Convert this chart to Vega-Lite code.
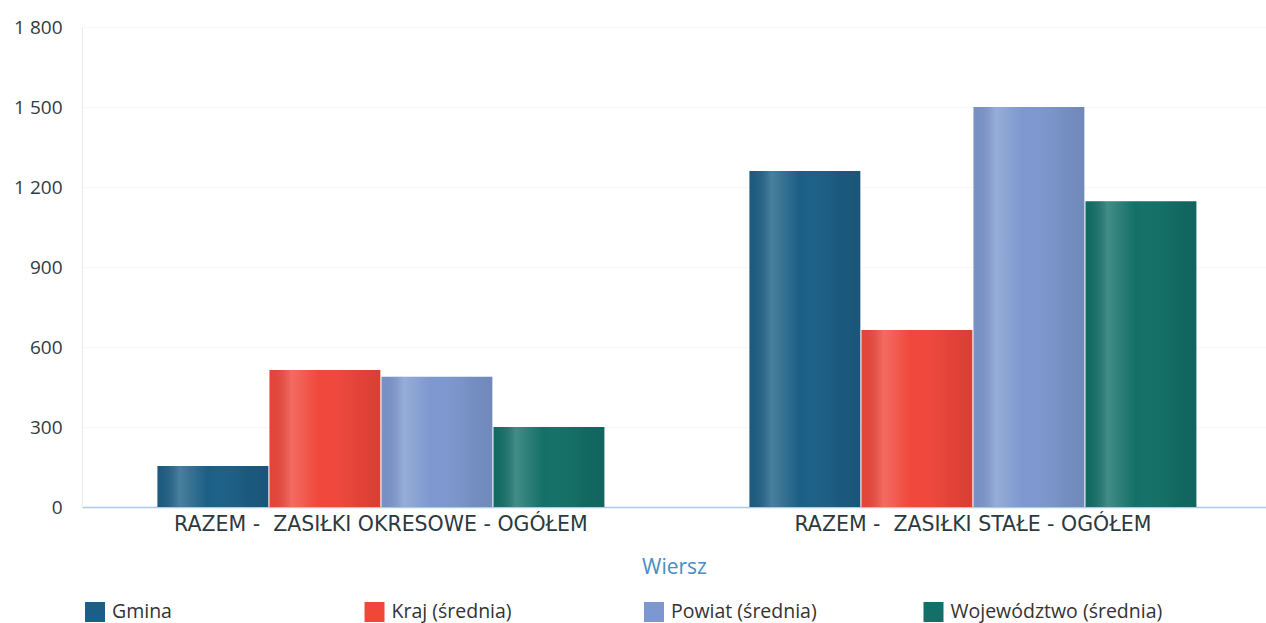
{
  "$schema": "https://vega.github.io/schema/vega-lite/v6.json",
  "autosize": "none",
  "padding": {"left": 82, "top": 27, "right": 0, "bottom": 116},
  "width": 1184,
  "height": 480,
  "background": "white",
  "config": {
    "font": "Open Sans",
    "view": {"stroke": null},
    "axis": {"labelFont": "Open Sans", "titleFont": "Open Sans"}
  },
  "data": {
    "values": [
      {"wiersz": "RAZEM -  ZASIŁKI OKRESOWE - OGÓŁEM", "seria": "Gmina", "wartosc": 154},
      {"wiersz": "RAZEM -  ZASIŁKI OKRESOWE - OGÓŁEM", "seria": "Kraj (średnia)", "wartosc": 514},
      {"wiersz": "RAZEM -  ZASIŁKI OKRESOWE - OGÓŁEM", "seria": "Powiat (średnia)", "wartosc": 488},
      {"wiersz": "RAZEM -  ZASIŁKI OKRESOWE - OGÓŁEM", "seria": "Województwo (średnia)", "wartosc": 300},
      {"wiersz": "RAZEM -  ZASIŁKI STAŁE - OGÓŁEM", "seria": "Gmina", "wartosc": 1260},
      {"wiersz": "RAZEM -  ZASIŁKI STAŁE - OGÓŁEM", "seria": "Kraj (średnia)", "wartosc": 664},
      {"wiersz": "RAZEM -  ZASIŁKI STAŁE - OGÓŁEM", "seria": "Powiat (średnia)", "wartosc": 1500},
      {"wiersz": "RAZEM -  ZASIŁKI STAŁE - OGÓŁEM", "seria": "Województwo (średnia)", "wartosc": 1147}
    ]
  },
  "encoding": {
    "x": {
      "field": "wiersz",
      "type": "nominal",
      "sort": null,
      "title": "Wiersz",
      "scale": {"paddingInner": 0.245, "paddingOuter": 0.1225, "align": 0.52},
      "axis": {
        "labelAngle": 0,
        "labelFont": "DejaVu Sans",
        "labelFontSize": 20.5,
        "labelColor": "#2c3a40",
        "labelPadding": 7,
        "labelLimit": 600,
        "labelExpr": "replace(datum.label, '-  ', '- \u00a0')",
        "ticks": false,
        "domainColor": "#a9cbe6",
        "domainWidth": 1.5,
        "titleFontSize": 21,
        "titleFontWeight": "normal",
        "titleColor": "#4a8cc4",
        "titlePadding": 22
      }
    },
    "xOffset": {"field": "seria", "type": "nominal", "scale": {"paddingInner": 0.01}},
    "y": {
      "field": "wartosc",
      "type": "quantitative",
      "title": null,
      "scale": {"domain": [0, 1800]},
      "axis": {
        "values": [0, 300, 600, 900, 1200, 1500, 1800],
        "labelExpr": "replace(format(datum.value, ','), ',', ' ')",
        "labelFontSize": 19,
        "labelColor": "#2f3b42",
        "labelPadding": 20,
        "ticks": false,
        "domainColor": "#e6ebf0",
        "grid": true,
        "gridColor": "#f7f8f9",
        "gridWidth": 1
      }
    }
  },
  "layer": [
    {
      "mark": {"type": "bar"},
      "encoding": {
        "color": {
          "field": "seria",
          "type": "nominal",
          "scale": {
            "domain": ["Gmina", "Kraj (średnia)", "Powiat (średnia)", "Województwo (średnia)"],
            "range": ["#1c5f86", "#f0473a", "#7d98cf", "#137068"]
          },
          "legend": {
            "title": null,
            "orient": "none",
            "legendX": 3,
            "legendY": 575,
            "direction": "horizontal",
            "columns": 4,
            "gridAlign": "all",
            "columnPadding": 40.5,
            "symbolType": "square",
            "symbolSize": 400,
            "symbolStrokeWidth": 0,
            "labelFontSize": 19.5,
            "labelColor": "#333333",
            "labelOffset": 7,
            "labelLimit": 400
          }
        }
      }
    },
    {
      "mark": {
        "type": "bar",
        "fill": {
          "gradient": "linear",
          "x1": 0, "y1": 0, "x2": 1, "y2": 0,
          "stops": [
            {"offset": 0, "color": "rgba(0,0,0,0.04)"},
            {"offset": 0.2, "color": "rgba(255,255,255,0.2)"},
            {"offset": 0.45, "color": "rgba(255,255,255,0.0)"},
            {"offset": 0.8, "color": "rgba(0,0,0,0.06)"},
            {"offset": 1, "color": "rgba(0,0,0,0.1)"}
          ]
        }
      },
      "encoding": {}
    }
  ]
}
